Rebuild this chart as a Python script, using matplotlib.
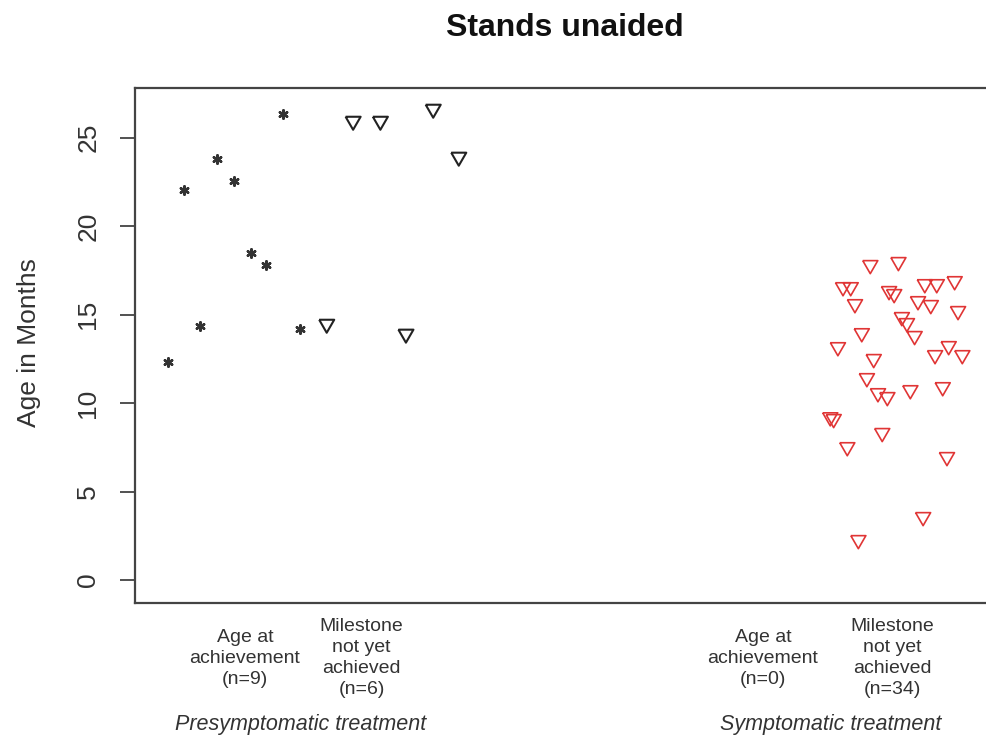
import numpy as np
import matplotlib.pyplot as plt
from matplotlib.transforms import blended_transform_factory

plt.rcParams['font.family'] = ['Liberation Sans', 'DejaVu Sans']

# x is the jittered position on a 0-10 axis, y is age in months
pre_ach_x = [0.39, 0.58, 0.76, 0.96, 1.16, 1.36, 1.54, 1.74, 1.94]
pre_ach_y = [12.32, 22.03, 14.35, 23.79, 22.54, 18.47, 17.80, 26.33, 14.18]

pre_not_x = [2.25, 2.56, 2.88, 3.18, 3.50, 3.80]
pre_not_y = [14.46, 25.93, 25.93, 13.90, 26.61, 23.90]

sym_not_x = [8.16, 8.20, 8.25, 8.31, 8.40, 8.36, 8.45, 8.49, 8.53, 8.59,
             8.63, 8.67, 8.72, 8.77, 8.83, 8.85, 8.91, 8.96, 9.00, 9.06,
             9.15, 9.10, 9.19, 9.25, 9.27, 9.34, 9.39, 9.41, 9.48, 9.53,
             9.55, 9.62, 9.66, 9.71]
sym_not_y = [9.20, 9.10, 13.16, 16.55, 16.55, 7.51, 15.59, 2.26, 13.95, 11.41,
             17.80, 12.49, 10.56, 8.31, 10.34, 16.33, 16.16, 17.97, 14.86, 14.52,
             13.79, 10.73, 15.76, 3.56, 16.72, 15.54, 12.71, 16.72, 10.90, 6.95,
             13.22, 16.89, 15.20, 12.71]

cat_pos = [1.29, 2.66, 7.37, 8.89]
cat_labels = ["Age at\nachievement\n(n=9)", "Milestone\nnot yet\nachieved\n(n=6)",
              "Age at\nachievement\n(n=0)", "Milestone\nnot yet\nachieved\n(n=34)"]
grp_pos = [1.94, 8.16]
grp_labels = ["Presymptomatic treatment", "Symptomatic treatment"]
yticks = [0, 5, 10, 15, 20, 25]

# R style down triangle (equilateral)
tri = [(-1, 0.5774), (1, 0.5774), (0, -1.1547), (-1, 0.5774)]

fig = plt.figure(figsize=(9.87, 7.40), dpi=100)
ax = fig.add_axes([135/987, 1 - 603/740, (987 - 135)/987, (603 - 88)/740])

ax.scatter(pre_ach_x, pre_ach_y, marker=(6, 2, 0), s=36, color='#333333', linewidths=1.8)
ax.scatter(pre_not_x, pre_not_y, marker=tri, s=12.5**2, facecolors='none',
           edgecolors='#222222', linewidths=1.5)
ax.scatter(sym_not_x, sym_not_y, marker=tri, s=12.5**2, facecolors='none',
           edgecolors='#e03535', linewidths=1.2)

ax.set_xlim(0, 10)
ax.set_ylim(-1.3, 27.8)
ax.set_xticks([])
ax.set_yticks(yticks)
ax.tick_params(axis='y', length=11, width=1.2, pad=14, labelsize=19,
               labelrotation=90, colors='#333333')
for lab in ax.get_yticklabels():
    lab.set_va('center')
for sp in ['left', 'top', 'bottom']:
    ax.spines[sp].set_linewidth(1.6)
    ax.spines[sp].set_color('#444444')
ax.spines['right'].set_visible(False)

ax.set_ylabel("Age in Months", fontsize=19, color='#333333')
ax.yaxis.set_label_coords(-0.110, 0.505)

tr = blended_transform_factory(ax.transData, ax.transAxes)
for x, lab in zip(cat_pos, cat_labels):
    ax.text(x, -0.107, lab, transform=tr, ha='center', va='center',
            fontsize=14, linespacing=1.3, color='#333333')
for x, lab in zip(grp_pos, grp_labels):
    ax.text(x, -0.235, lab, transform=tr, ha='center', va='center',
            fontsize=15.5, style='italic', color='#333333')

fig.text(565/987, 1 - 28/740, "Stands unaided", ha='center', va='center',
         fontsize=23, fontweight='bold', color='#111111')

fig.savefig("out.png", dpi=100)
